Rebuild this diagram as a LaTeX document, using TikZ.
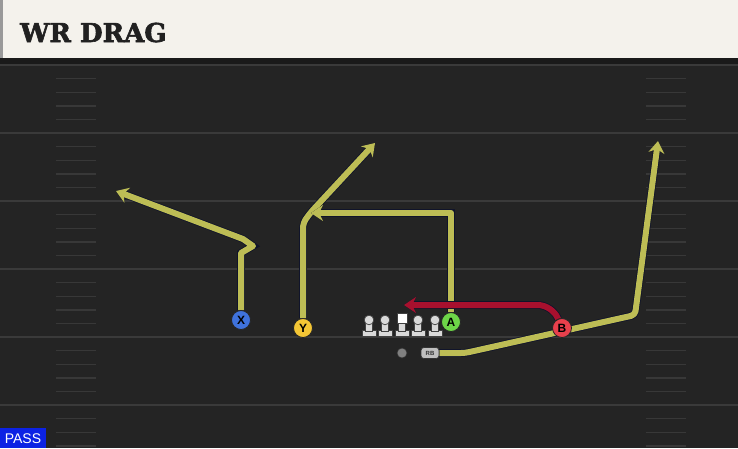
\documentclass[tikz,border=0pt]{standalone}
\usepackage{fontspec}
\setmainfont{DejaVu Serif}
\newfontfamily\labelfont{Liberation Sans}
\newfontfamily\titlefont{DejaVu Serif Bold}[FakeBold=2.2]
\usetikzlibrary{arrows.meta, calc}

\definecolor{fieldgray}{HTML}{242424}
\definecolor{bandgray}{HTML}{1A1A1A}
\definecolor{linegray}{HTML}{3A3A3A}
\definecolor{hashgray}{HTML}{383838}
\definecolor{headercream}{HTML}{F4F2EC}
\definecolor{routeyellow}{HTML}{BDBD55}
\definecolor{routered}{HTML}{A8102E}
\definecolor{routeedge}{HTML}{10142A}
\definecolor{xblue}{HTML}{3F72DC}
\definecolor{ygold}{HTML}{F4C635}
\definecolor{agreen}{HTML}{6DD548}
\definecolor{bred}{HTML}{E8404C}
\definecolor{passblue}{HTML}{0C22E4}

\pgfdeclarelayer{field}
\pgfdeclarelayer{routes}
\pgfsetlayers{field,routes,main}

\begin{document}
\begin{tikzpicture}[
    x=1pt, y=-1pt,
    >={Stealth[length=12pt, width=16pt]},
    yardline/.style={draw=linegray, line width=1.8pt},
    hashmark/.style={draw=hashgray, line width=1.4pt},
    player/.style={circle, draw=black!85, line width=0.8pt, minimum size=19pt, inner sep=0pt,
                   font=\labelfont\bfseries\fontsize{12}{12}\selectfont},
    route/.style={->, draw=routeyellow, line width=6pt, line join=round,
                  preaction={draw=routeedge, line width=7.6pt}},
    redroute/.style={route, draw=routered},
    lineman/.style={fill=black!15, draw=black!75, line width=0.7pt},
  ]
  \useasboundingbox (0,0) rectangle (738,448);

  % Field and header
  \begin{pgfonlayer}{field}
    \fill[fieldgray] (0,58) rectangle (738,448);
    \fill[bandgray] (0,58) rectangle (738,64);
    \fill[headercream] (0,0) rectangle (738,58);
    \fill[black!40] (0,0) rectangle (3,58);
    % Yard lines and hash marks
    \foreach \ly in {65,133,201,269,337,405} {
      \draw[yardline] (0,\ly) -- (738,\ly);
      \foreach \k in {1,...,4} {
        \draw[hashmark] (56,\ly+13.6*\k) -- (96,\ly+13.6*\k);
        \draw[hashmark] (646,\ly+13.6*\k) -- (686,\ly+13.6*\k);
      }
    }
  \end{pgfonlayer}
  \node[anchor=base west, inner sep=0pt, text=black!87, font=\titlefont\fontsize{26}{26}\selectfont] (title) at (20,42) {WR DRAG};

  % Linemen
  \foreach \lx in {369,385,418,435} {
    \filldraw[lineman] (\lx-7,330.5) rectangle (\lx+7,336.5);
    \filldraw[lineman] (\lx-3.3,321) rectangle (\lx+3.3,331);
    \filldraw[lineman] (\lx,320) circle (4.8);
  }
  \filldraw[lineman] (395,330.5) rectangle (409,336.5);
  \filldraw[lineman] (398.7,322) rectangle (405.3,331);
  \filldraw[fill=white, draw=black!75, line width=0.7pt] (397,313.5) rectangle (407,323);

  % Players
  \node[player, fill=xblue] (X) at (241,320) {X};
  \node[player, fill=ygold] (Y) at (303,328) {Y};
  \node[player, fill=agreen] (A) at (451,322) {A};
  \node[player, fill=bred] (B) at (562,328) {B};
  \node[circle, fill=black!50, draw=black!80, line width=0.6pt, minimum size=10pt, inner sep=0pt] (QB) at (402,353) {};
  \node[rounded corners=3pt, fill=black!25, draw=black!80, line width=0.6pt, minimum width=18pt,
        minimum height=11pt, inner sep=0pt, text=black!80,
        font=\labelfont\bfseries\fontsize{6}{6}\selectfont] (RB) at (430,353) {RB};

  % Routes
  \begin{pgfonlayer}{routes}
    \draw[route] (X) -- (241,253) -- (253,246) -- (243,239) -- (116,191);
    \draw[route, rounded corners=5pt] (Y) -- (303,223) -- (311,212) -- (375,143);
    \draw[route] (A) -- (451,213) -- (311,213);
    \draw[redroute, rounded corners=14pt] (B) -- (552,305) -- (404,305);
    \draw[route, rounded corners=4pt] (RB.east) -- (465,353) -- (635,315) -- (658,141);
  \end{pgfonlayer}

  % Play type
  \fill[passblue] (0,428) rectangle (46,448);
  \node[text=white, font=\labelfont\fontsize{14}{14}\selectfont] (pass) at (23,439) {PASS};
\end{tikzpicture}
\end{document}
